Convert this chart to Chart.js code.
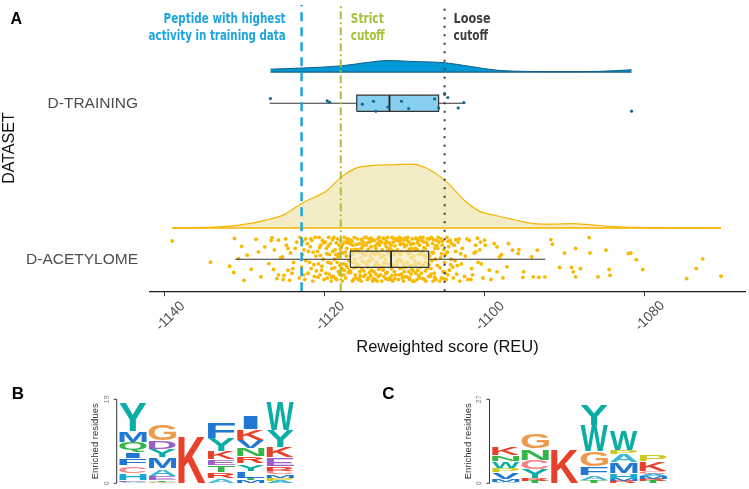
<!DOCTYPE html>
<html>
<head>
<meta charset="utf-8">
<script src="https://cdn.jsdelivr.net/npm/chart.js@4.4.0/dist/chart.umd.min.js"></script>
<style>
  body { margin: 0; background: #fff; }
  #wrap { position: relative; width: 749px; height: 489px; overflow: hidden; background: #fff; }
  canvas { position: absolute; }
</style>
</head>
<body>
<div id="wrap">
  <canvas id="chartA" width="749" height="360" style="left:0;top:0"></canvas>
  <canvas id="chartB" width="374" height="129" style="left:0;top:360px"></canvas>
  <canvas id="chartC" width="374" height="129" style="left:375px;top:360px"></canvas>
</div>
<script>
// ---- panel A data (reweighted score, REU) ----
const groups = ['D-ACETYLOME', 'D-TRAINING'];
const cutoffs = [-1122.9, -1118.0, -1105.0];   // best training peptide, strict, loose
const xTicks = [-1140, -1120, -1100, -1080];

// density outlines, relative height
const acetDensX = [-1139.1, -1135, -1132.3, -1129.5, -1127.5, -1125.1, -1122.7, -1119.8, -1117.9, -1116.0, -1114.0, -1111.2, -1109.2, -1107.3, -1104.8, -1102.5, -1100.6, -1098.7, -1096.3, -1093.9, -1091.5, -1089.1, -1086.7, -1084.3, -1079.5, -1075, -1070.4];
const acetDensH = [0, 0.01, 0.026, 0.07, 0.12, 0.21, 0.40, 0.58, 0.80, 0.94, 0.98, 0.99, 1.0, 0.94, 0.73, 0.43, 0.26, 0.20, 0.13, 0.07, 0.06, 0.07, 0.05, 0.026, 0.005, 0.003, 0];
const trainDensX = [-1126.8, -1122.8, -1117.8, -1114.5, -1112.1, -1109.1, -1104.9, -1101.9, -1098.3, -1094.75, -1090, -1085.75, -1081.6];
const trainDensH = [0.25, 0.35, 0.55, 0.85, 1.0, 0.92, 0.8, 0.5, 0.15, 0.06, 0.04, 0.06, 0.2];

// box stats: whisker low, q1, median, q3, whisker high
const acetBox = [-1131.2, -1116.8, -1111.7, -1107.0, -1092.4];
const trainBox = [-1126.9, -1116.0, -1111.9, -1105.75, -1102.4];

// jittered points: [score, jitter]
const trainPoints = [[-1126.8,0.03],[-1119.7,0.015],[-1119.4,0.008],[-1115.3,-0.006],[-1113.9,0.013],[-1113.6,-0.051],
  [-1112.1,-0.024],[-1110.4,0.013],[-1109.5,-0.034],[-1106.25,0.028],[-1105.75,-0.03],[-1105.0,0.062],[-1104.6,0.037],
  [-1103.3,-0.03],[-1102.6,0.005],[-1081.6,-0.051]];

const acetPoints = [
  [-1139.1,0.117],[-1134.3,-0.019],[-1131.3,0.133],[-1131.9,-0.045],[-1131.4,-0.085],[-1130.1,-0.135],[-1128.6,0.128],[-1129.2,-0.064],
  [-1129.7,0.026],[-1126.6,0.139],[-1127.5,0.079],[-1128.3,0.047],[-1127.0,-0.028],[-1126.4,-0.066],[-1128.0,-0.113],[-1125.8,0.122],
  [-1125.3,0.015],[-1124.6,0.069],[-1125.1,-0.103],[-1124.0,-0.06],[-1126.0,-0.124],[-1124.4,-0.135],[-1130.4,0.083],[-1130.8,0.004],
  [-1126.3,0.06],[-1125.8,-0.1],[-1126.7,0.12],[-1125.5,0.01],
  [-1124.9,0.13],[-1124.6,-0.07],[-1125.2,-0.13],[-1124.3,0.04],[-1124.8,0.09],
  [-1123.9,-0.02],[-1123.5,0.11],[-1123.2,-0.12],[-1123.7,0.07],[-1124.1,-0.09],[-1123.1,0.14],
  [-1122.8,0.03],[-1122.5,-0.13],[-1122.2,0.1],[-1122.9,-0.05],[-1122.4,0.13],[-1122.1,-0.09],[-1122.6,0.06],
  [-1121.9,-0.02],[-1121.6,0.12],[-1121.3,-0.11],[-1121.8,0.08],[-1121.1,0.02],[-1121.5,-0.14],[-1121.2,0.14],[-1121.7,-0.06],
  [-1120.9,0.05],[-1120.6,-0.1],[-1120.3,0.12],[-1120.8,-0.03],[-1120.1,-0.13],[-1120.5,0.09],[-1120.2,0.0],[-1120.7,0.14],[-1120.4,-0.07],
  [-1119.9,0.11],[-1119.7,-0.12],[-1119.4,0.03],[-1119.1,-0.06],[-1119.8,0.07],[-1119.5,0.14],[-1119.2,-0.14],[-1119.6,-0.02],[-1119.3,0.1],[-1119.0,0.05],[-1119.85,-0.09],
  [-1118.9,-0.11],[-1118.7,0.06],[-1118.4,0.13],[-1118.1,-0.04],[-1118.8,0.0],[-1118.5,-0.13],[-1118.2,0.09],[-1118.6,0.03],[-1118.3,-0.08],[-1118.0,0.12],[-1118.85,0.14],[-1118.45,-0.02],
  [-1117.9,0.08],[-1117.6,-0.1],[-1117.3,0.02],[-1117.1,0.13],[-1117.8,-0.14],[-1117.5,0.11],[-1117.2,-0.05],[-1117.7,0.04],[-1117.4,-0.12],[-1117.0,-0.01],[-1117.85,-0.06],[-1117.55,0.14],[-1117.25,0.07],[-1117.65,-0.03],
  [-1116.9,-0.07],[-1116.7,0.12],[-1116.4,-0.13],[-1116.1,0.05],[-1116.8,0.02],[-1116.5,0.09],[-1116.2,-0.1],[-1116.6,-0.02],[-1116.3,0.14],[-1116.0,-0.05],[-1116.85,0.1],[-1116.55,-0.14],[-1116.25,0.0],[-1116.65,0.06],[-1116.15,-0.12],
  [-1115.9,0.13],[-1115.7,-0.04],[-1115.4,0.07],[-1115.1,-0.11],[-1115.8,-0.13],[-1115.5,0.01],[-1115.2,0.11],[-1115.6,-0.08],[-1115.3,0.04],[-1115.0,0.14],[-1115.85,0.06],[-1115.45,-0.14],[-1115.15,-0.02],[-1115.65,0.1],[-1115.35,-0.06],[-1115.05,0.03],
  [-1114.9,-0.1],[-1114.7,0.05],[-1114.4,-0.01],[-1114.1,0.12],[-1114.8,0.14],[-1114.5,-0.12],[-1114.2,0.08],[-1114.6,-0.05],[-1114.3,0.02],[-1114.0,-0.14],[-1114.85,0.09],[-1114.45,0.13],[-1114.15,-0.07],[-1114.65,-0.13],[-1114.35,0.11],[-1114.05,0.0],[-1114.75,-0.03],
  [-1113.9,0.04],[-1113.7,-0.13],[-1113.4,0.1],[-1113.1,-0.06],[-1113.8,0.12],[-1113.5,-0.02],[-1113.2,0.14],[-1113.6,0.07],[-1113.3,-0.11],[-1113.0,0.01],[-1113.85,-0.08],[-1113.45,-0.14],[-1113.15,0.09],[-1113.65,0.03],[-1113.35,0.13],[-1113.05,-0.1],[-1113.75,-0.04],
  [-1112.9,0.11],[-1112.7,-0.07],[-1112.4,0.0],[-1112.1,-0.13],[-1112.8,0.06],[-1112.5,0.13],[-1112.2,-0.03],[-1112.6,-0.11],[-1112.3,0.08],[-1112.0,0.03],[-1112.85,-0.14],[-1112.45,0.1],[-1112.15,0.14],[-1112.65,-0.05],[-1112.35,-0.09],[-1112.05,0.06],[-1112.75,0.02],
  [-1111.9,-0.12],[-1111.7,0.09],[-1111.4,-0.04],[-1111.1,0.12],[-1111.8,0.02],[-1111.5,-0.14],[-1111.2,0.05],[-1111.6,0.14],[-1111.3,-0.08],[-1111.0,-0.01],[-1111.85,0.07],[-1111.45,0.11],[-1111.15,-0.1],[-1111.65,-0.06],[-1111.35,0.03],[-1111.05,0.13],[-1111.75,-0.13],
  [-1110.9,0.06],[-1110.7,-0.1],[-1110.4,0.13],[-1110.1,-0.03],[-1110.8,-0.13],[-1110.5,0.03],[-1110.2,0.1],[-1110.6,-0.06],[-1110.3,-0.12],[-1110.0,0.08],[-1110.85,0.12],[-1110.45,-0.01],[-1110.15,-0.14],[-1110.65,0.14],[-1110.35,0.05],[-1110.05,-0.08],[-1110.75,0.0],
  [-1109.9,-0.05],[-1109.7,0.12],[-1109.4,-0.12],[-1109.1,0.07],[-1109.8,0.09],[-1109.5,-0.08],[-1109.2,0.01],[-1109.6,0.14],[-1109.3,0.04],[-1109.0,-0.14],[-1109.85,-0.11],[-1109.45,0.11],[-1109.15,-0.04],[-1109.65,-0.02],[-1109.35,-0.13],[-1109.05,0.13],[-1109.75,0.05],
  [-1108.9,0.1],[-1108.7,-0.03],[-1108.4,0.06],[-1108.1,-0.12],[-1108.8,-0.14],[-1108.5,0.13],[-1108.2,0.03],[-1108.6,-0.09],[-1108.3,0.12],[-1108.0,-0.05],[-1108.85,0.02],[-1108.45,-0.13],[-1108.15,0.09],[-1108.65,0.07],[-1108.35,-0.07],[-1108.05,0.14],[-1108.75,-0.01],
  [-1107.9,-0.09],[-1107.7,0.14],[-1107.4,-0.02],[-1107.1,0.09],[-1107.8,0.05],[-1107.5,-0.13],[-1107.2,-0.06],[-1107.6,0.11],[-1107.3,0.01],[-1107.0,-0.11],[-1107.85,0.12],[-1107.45,0.07],[-1107.15,0.13],[-1107.65,-0.04],[-1107.35,-0.14],[-1107.05,0.04],
  [-1106.9,0.13],[-1106.7,-0.06],[-1106.4,0.04],[-1106.1,-0.13],[-1106.8,-0.11],[-1106.5,0.1],[-1106.2,0.07],[-1106.6,-0.01],[-1106.3,-0.09],[-1106.0,0.12],[-1106.85,0.02],[-1106.45,-0.14],[-1106.15,0.0],[-1106.65,0.14],
  [-1105.9,-0.04],[-1105.7,0.11],[-1105.4,-0.12],[-1105.1,0.06],[-1105.8,0.14],[-1105.5,0.01],[-1105.2,-0.08],[-1105.6,-0.14],[-1105.3,0.09],[-1105.0,-0.02],[-1105.85,0.07],[-1105.45,0.13],
  [-1104.9,0.03],[-1104.6,-0.1],[-1104.3,0.12],[-1104.0,-0.05],[-1104.8,-0.13],[-1104.5,0.08],[-1104.2,0.0],[-1104.7,0.14],[-1104.4,-0.07],[-1104.1,0.1],
  [-1103.9,-0.12],[-1103.6,0.05],[-1103.2,0.13],[-1103.8,0.09],[-1103.4,-0.04],[-1103.1,-0.14],[-1103.7,-0.01],[-1103.3,0.11],
  [-1102.8,0.07],[-1102.5,-0.11],[-1102.2,0.13],[-1102.9,-0.03],[-1102.4,0.02],[-1102.1,-0.13],
  [-1101.9,0.12],[-1101.6,-0.06],[-1101.3,0.04],[-1101.7,-0.13],[-1101.1,0.09],
  [-1100.8,-0.02],[-1100.5,0.11],[-1100.2,-0.12],[-1100.6,0.06],
  [-1122.35,-0.01],[-1122.75,0.115],[-1122.05,0.05],[-1122.65,-0.1],
  [-1121.45,0.045],[-1121.05,-0.075],[-1121.75,0.13],[-1121.35,-0.035],
  [-1120.55,0.025],[-1120.15,0.105],[-1120.85,-0.115],[-1120.35,-0.045],[-1120.65,0.075],
  [-1119.45,-0.095],[-1119.05,0.125],[-1119.75,0.035],[-1119.25,-0.025],[-1119.55,0.085],[-1119.15,-0.115],
  [-1118.55,0.105],[-1118.15,-0.095],[-1118.75,-0.055],[-1118.25,0.035],[-1118.65,-0.125],[-1118.05,0.065],[-1118.35,0.015],
  [-1117.45,0.045],[-1117.05,-0.085],[-1117.75,0.095],[-1117.35,-0.035],[-1117.15,0.105],[-1117.95,-0.105],[-1117.6,-0.07],[-1117.2,0.125],
  [-1116.45,0.035],[-1116.05,0.095],[-1116.75,-0.085],[-1116.35,-0.055],[-1116.95,0.125],[-1116.2,0.065],[-1116.6,0.115],[-1116.1,-0.025],
  [-1115.55,-0.105],[-1115.25,0.085],[-1115.75,0.045],[-1115.95,-0.035],[-1115.1,-0.075],[-1115.4,0.125],[-1115.65,-0.125],[-1115.3,-0.015],
  [-1114.55,0.065],[-1114.25,-0.105],[-1114.95,0.025],[-1114.1,0.045],[-1114.4,-0.085],[-1114.7,0.105],[-1114.6,-0.015],[-1114.2,0.135],
  [-1113.55,0.045],[-1113.25,-0.065],[-1113.95,-0.125],[-1113.1,0.115],[-1113.4,-0.035],[-1113.7,0.085],[-1113.6,-0.095],[-1113.2,0.035],
  [-1112.55,-0.025],[-1112.25,0.115],[-1112.95,-0.045],[-1112.1,0.045],[-1112.4,-0.125],[-1112.7,0.135],[-1112.6,0.025],[-1112.2,-0.085],
  [-1111.55,0.055],[-1111.25,-0.125],[-1111.95,0.105],[-1111.1,-0.045],[-1111.4,0.135],[-1111.7,-0.025],[-1111.6,-0.105],[-1111.2,0.085],
  [-1110.55,0.095],[-1110.25,-0.055],[-1110.95,-0.025],[-1110.1,0.125],[-1110.4,-0.095],[-1110.7,0.035],[-1110.6,0.115],[-1110.2,-0.115],
  [-1109.55,0.035],[-1109.25,0.095],[-1109.95,0.135],[-1109.1,-0.065],[-1109.4,0.065],[-1109.7,-0.115],[-1109.6,-0.045],[-1109.2,-0.095],
  [-1108.55,-0.045],[-1108.25,-0.105],[-1108.95,-0.075],[-1108.1,0.035],[-1108.4,0.105],[-1108.7,0.055],[-1108.6,0.135],[-1108.2,-0.025],
  [-1107.55,0.025],[-1107.25,0.105],[-1107.95,0.035],[-1107.1,-0.035],[-1107.4,-0.075],[-1107.7,-0.125],[-1107.6,0.075],
  [-1106.55,0.045],[-1106.25,-0.115],[-1106.95,-0.035],[-1106.1,0.085],[-1106.4,0.125],[-1106.7,-0.095],
  [-1105.55,-0.055],[-1105.25,0.115],[-1105.95,0.085],[-1105.1,-0.125],[-1105.4,0.035],
  [-1104.55,0.115],[-1104.25,-0.035],[-1104.95,-0.085],[-1104.65,0.045],
  [-1103.5,-0.095],[-1103.0,0.035],[-1103.6,0.125],
  [-1101.1,0.047],[-1100.4,-0.03],[-1099.4,-0.07],[-1098.8,0.1],[-1097.7,-0.12],[-1099.9,0.09],[-1099.2,-0.13],[-1101.5,-0.1],[-1100.9,0.135],[-1097.9,0.03],
  [-1100.0,0.122],[-1098.45,0.079],[-1098.1,0.015],[-1097.0,0.1],[-1096.5,0.058],[-1095.8,0.037],[-1095.7,0.062],[-1097.2,-0.049],
  [-1098.45,-0.081],[-1095.1,-0.081],[-1095.2,-0.117],[-1093.9,-0.113],[-1093.2,-0.117],[-1092.45,-0.113],[-1093.4,0.058],[-1094.1,0.015],
  [-1091.7,0.126],[-1091.5,0.096],[-1090.0,0.04],[-1088.6,0.069],[-1090.6,-0.053],[-1089.1,-0.053],[-1088.9,-0.081],[-1088.6,-0.113],
  [-1088.0,-0.06],[-1086.9,0.139],[-1086.8,0.04],[-1085.8,-0.113],[-1084.8,0.058],[-1084.4,-0.066],[-1084.3,-0.103],[-1082.0,0.037],
  [-1081.7,0.04],[-1081.0,-0.002],[-1080.2,-0.066],[-1074.7,-0.124],[-1073.5,-0.06],[-1072.7,0.002],[-1070.4,-0.109]
];

// ---- panels B and C: sequence logos, letters bottom -> top ----
const logoBLetters = [
  ['A','E','H','C','F','I','Q','M','Y'],
  ['G','T','E','A','M','Y','D','G'],
  ['K'],
  ['A','R','T','E','K','Y','F'],
  ['M','T','L','Y','R','N','V','K','I'],
  ['A','P','M','C','R','E','K','Y','W']
];
const logoBHeights = [
  [0.25,0.3,1.7,1.7,1.6,1.4,2.3,2.6,6.5],
  [0.35,0.35,0.9,1.7,2.5,1.9,2.0,3.6],
  [10.7],
  [1.1,1.4,1.6,1.3,1.8,3.0,3.8],
  [0.7,0.5,1.6,1.7,1.5,1.8,1.9,2.5,3.1],
  [0.6,0.6,0.7,0.9,1.05,1.9,2.4,3.8,6.5]
];
const logoCLetters = [
  ['A','M','V','P','W','N','K'],
  ['T','R','Y','C','N','G'],
  ['K'],
  ['T','A','F','G','W','Y'],
  ['R','M','H','M','A','P','W'],
  ['T','R','M','A','C','K','P']
];
const logoCHeights = [
  [0.5,0.7,2.3,1.4,2.2,1.8,2.6],
  [0.6,1.0,2.9,3.0,3.6,4.7],
  [10.9],
  [1.0,1.6,2.9,4.8,8.4,7.0],
  [0.7,0.7,1.8,3.4,2.7,1.3,6.3],
  [0.8,0.7,0.7,0.6,1.1,3.0,2.4]
];
const logoMax = [19, 27];

const letterColors = {
  K:'#E8412B', R:'#E8412B', D:'#9B5FC8', E:'#9B5FC8', N:'#33B54A', Q:'#33B54A', T:'#33B54A', S:'#33B54A',
  G:'#EC9A4C', Y:'#0BAEA6', W:'#0BAEA6', H:'#18A9D4', M:'#2177D1', F:'#2177D1', I:'#2177D1', L:'#2177D1',
  V:'#2177D1', A:'#3DB6D8', C:'#F08487', P:'#C9C920'
};

const SANS = '"Liberation Sans", Arial, Helvetica, sans-serif';
const NARROW = '"Liberation Sans Narrow", "DejaVu Sans Condensed", "Liberation Sans", sans-serif';

// ---- panel A ----
const ACET_BASE = 1.2, ACET_SCALE = 0.41;
const TRAIN_BASE = 2.2, TRAIN_SCALE = 0.074;
const BOX_H = 0.052;
const Y_MIN = 0.795, Y_MAX = 2.63;

function xy(xs, ys, base, scale) {
  return xs.map((v, i) => ({x: v, y: base + scale * ys[i]}));
}
function lineDs(data, color, width, order, extra) {
  return Object.assign({
    type: 'line', data: data, borderColor: color, borderWidth: width,
    pointRadius: 0, fill: false, tension: 0, order: order
  }, extra || {});
}
function boxSets(b, yc, fillColor, order) {
  return [
    lineDs([{x: b[1], y: yc + BOX_H}, {x: b[3], y: yc + BOX_H}], 'rgba(0,0,0,0)', 0, order,
      {fill: {value: yc - BOX_H}, backgroundColor: fillColor}),
    lineDs([{x: b[1], y: yc - BOX_H}, {x: b[1], y: yc + BOX_H}, {x: b[3], y: yc + BOX_H},
            {x: b[3], y: yc - BOX_H}, {x: b[1], y: yc - BOX_H}], '#333', 1.2, order - 0.1),
    lineDs([{x: b[0], y: yc}, {x: b[1], y: yc}], '#333', 1.1, order - 0.1),
    lineDs([{x: b[3], y: yc}, {x: b[4], y: yc}], '#333', 1.1, order - 0.1),
    lineDs([{x: b[2], y: yc - BOX_H}, {x: b[2], y: yc + BOX_H}], '#222', 1.8, order - 0.2)
  ];
}
function refLine(v, color, width, dash) {
  return lineDs([{x: v, y: Y_MIN}, {x: v, y: Y_MAX}], color, width, 1, {borderDash: dash});
}

const dsA = [
  lineDs(xy(acetDensX, acetDensH, ACET_BASE, ACET_SCALE), '#F5B400', 1.2, 20,
    {fill: {value: ACET_BASE}, backgroundColor: '#F4ECC4', cubicInterpolationMode: 'monotone'}),
  lineDs([{x: acetDensX[0], y: ACET_BASE}, {x: acetDensX[acetDensX.length - 1], y: ACET_BASE}], '#F5B400', 1.6, 19),
  lineDs(xy(trainDensX, trainDensH, TRAIN_BASE, TRAIN_SCALE), '#135E84', 1, 20,
    {fill: {value: TRAIN_BASE}, backgroundColor: '#0099D6', cubicInterpolationMode: 'monotone'}),
  lineDs([{x: trainDensX[0], y: TRAIN_BASE}, {x: trainDensX[trainDensX.length - 1], y: TRAIN_BASE}], '#135E84', 1.2, 19),
  lineDs(acetPoints.map(p => ({x: p[0], y: 1 + p[1]})), '#F8B900', 0, 15,
    {showLine: false, pointRadius: 1.9, pointBackgroundColor: '#F8B900', pointBorderWidth: 0}),
  ...boxSets(acetBox, 1, 'rgba(245,235,190,0.7)', 12),
  ...boxSets(trainBox, 2, 'rgba(53,175,227,0.6)', 12),
  lineDs(trainPoints.map(p => ({x: p[0], y: 2 + p[1]})), '#17698F', 0, 5,
    {showLine: false, pointRadius: 1.6, pointBackgroundColor: '#17698F', pointBorderWidth: 0}),
  refLine(cutoffs[0], '#1CA5DF', 2.5, [9, 6]),
  refLine(cutoffs[1], '#A3C13A', 2, [8, 3, 2, 3]),
  refLine(cutoffs[2], '#3a3a3a', 2, [2, 6.5])
];

const panelA = {
  id: 'panelA',
  afterDraw(chart) {
    const {ctx, scales: {x, y}} = chart;
    ctx.save();
    // tick labels, rotated
    ctx.fillStyle = '#4d4d4d';
    ctx.font = '14px ' + SANS;
    ctx.textAlign = 'center';
    ctx.textBaseline = 'middle';
    x.ticks.forEach(t => {
      ctx.save();
      ctx.translate(x.getPixelForValue(t.value) + 5.5, y.bottom + 25);
      ctx.rotate(-Math.PI / 4);
      ctx.fillText(String(t.value), 0, 0);
      ctx.restore();
    });
    // category labels
    ctx.font = '15.5px ' + SANS;
    ctx.textAlign = 'right';
    groups.forEach((g, i) => ctx.fillText(g, x.left - 12, y.getPixelForValue(i + 1)));
    // y title
    ctx.save();
    ctx.fillStyle = '#111';
    ctx.font = '16px ' + SANS;
    ctx.textAlign = 'center';
    ctx.translate(9.5, (y.top + y.bottom) / 2);
    ctx.rotate(-Math.PI / 2);
    ctx.fillText('DATASET', 0, 0);
    ctx.restore();
    // annotations
    ctx.font = 'bold 14px ' + NARROW;
    const xb = x.getPixelForValue(cutoffs[0]), xs = x.getPixelForValue(cutoffs[1]), xl = x.getPixelForValue(cutoffs[2]);
    ctx.fillStyle = '#1CA5DF';
    ctx.textAlign = 'right';
    ctx.fillText('Peptide with highest', xb - 16, 19, 122);
    ctx.fillText('activity in training data', xb - 16, 36.5, 137);
    ctx.textAlign = 'left';
    ctx.fillStyle = '#A3C13A';
    ctx.fillText('Strict', xs + 10, 19, 33);
    ctx.fillText('cutoff', xs + 10, 36.5, 34);
    ctx.fillStyle = '#3d3d3d';
    ctx.fillText('Loose', xl + 9, 19, 37);
    ctx.fillText('cutoff', xl + 9, 36.5, 34.5);
    // panel letter
    ctx.fillStyle = '#000';
    ctx.font = 'bold 16px ' + SANS;
    ctx.textBaseline = 'alphabetic';
    ctx.fillText('A', 10.5, 23.5);
    ctx.restore();
  }
};

new Chart(document.getElementById('chartA'), {
  type: 'line',
  data: {datasets: dsA},
  options: {
    responsive: false,
    animation: false,
    events: [],
    layout: {padding: {left: 150, right: 3.3, top: 5, bottom: 3}},
    plugins: {legend: {display: false}, tooltip: {enabled: false}},
    scales: {
      x: {
        type: 'linear', min: -1141.875, max: -1067.4,
        afterBuildTicks: s => { s.ticks = xTicks.map(v => ({value: v})); },
        ticks: {display: false},
        grid: {display: true, drawOnChartArea: false, drawTicks: true, tickLength: 5, color: '#333', lineWidth: 1},
        border: {display: true, color: '#1a1a1a', width: 1.3},
        title: {display: true, text: 'Reweighted score (REU)', color: '#111',
                font: {size: 16.5, family: SANS}, padding: {top: 41, bottom: 0}}
      },
      y: {type: 'linear', min: Y_MIN, max: Y_MAX, display: false}
    }
  },
  plugins: [panelA]
});

// ---- logos ----
function drawLetter(ctx, ch, left, bottom, w, h) {
  ctx.save();
  ctx.font = 'bold 100px ' + SANS;
  const m = ctx.measureText(ch);
  const gw = m.actualBoundingBoxLeft + m.actualBoundingBoxRight;
  const gh = m.actualBoundingBoxAscent + m.actualBoundingBoxDescent;
  const f = ch === 'I' ? 0.55 : 1;
  ctx.translate(left + w * (1 - f) / 2, bottom);
  ctx.scale(w * f / gw, h / gh);
  ctx.fillStyle = letterColors[ch] || '#888';
  ctx.textAlign = 'left';
  ctx.textBaseline = 'alphabetic';
  ctx.fillText(ch, m.actualBoundingBoxLeft, -m.actualBoundingBoxDescent);
  ctx.restore();
}

const logoPlugin = {
  id: 'logo',
  afterDatasetsDraw(chart, args, opts) {
    const ctx = chart.ctx;
    chart.data.datasets.forEach((ds, di) => {
      chart.getDatasetMeta(di).data.forEach((bar, ci) => {
        const ch = opts.letters[ci][di];
        if (!ch) return;
        const p = bar.getProps(['x', 'y', 'base', 'width'], true);
        const h = p.base - p.y;
        if (h < 0.4) return;
        const gap = h > 3 ? 0.4 : 0;
        drawLetter(ctx, ch, p.x - p.width / 2, p.base - gap, p.width, h - 2 * gap);
      });
    });
  },
  afterDraw(chart, args, opts) {
    const {ctx, chartArea, scales: {y}} = chart;
    const ax = chartArea.left - 1.5;
    const y0 = y.getPixelForValue(0), y1 = y.getPixelForValue(y.max);
    ctx.save();
    ctx.strokeStyle = '#333';
    ctx.lineWidth = 1;
    ctx.beginPath();
    ctx.moveTo(ax - 3, y0); ctx.lineTo(ax, y0); ctx.lineTo(ax, y1); ctx.lineTo(ax - 3, y1);
    ctx.stroke();
    ctx.fillStyle = '#777';
    ctx.font = '7px ' + SANS;
    ctx.textAlign = 'center';
    ctx.textBaseline = 'middle';
    [[0, y0], [y.max, y1]].forEach(t => {
      ctx.save(); ctx.translate(ax - 10, t[1]); ctx.rotate(-Math.PI / 2);
      ctx.fillText(String(t[0]), 0, 0); ctx.restore();
    });
    ctx.fillStyle = '#333';
    ctx.font = '9.5px ' + SANS;
    ctx.save(); ctx.translate(ax - 21.5, (y0 + y1) / 2); ctx.rotate(-Math.PI / 2);
    ctx.fillText('Enriched residues', 0, 0); ctx.restore();
    ctx.fillStyle = '#000';
    ctx.font = 'bold 17px ' + SANS;
    ctx.textAlign = 'left';
    ctx.textBaseline = 'alphabetic';
    ctx.fillText(opts.panel, opts.panelX, 38.5);
    ctx.restore();
  }
};

function makeLogo(id, letters, heights, max, panel, panelX, padL, padR) {
  const depth = Math.max(...letters.map(c => c.length));
  const datasets = [];
  for (let i = 0; i < depth; i++) {
    datasets.push({
      data: heights.map(c => c[i] || 0),
      backgroundColor: 'rgba(0,0,0,0)', borderWidth: 0,
      categoryPercentage: 1, barPercentage: 0.93
    });
  }
  new Chart(document.getElementById(id), {
    type: 'bar',
    data: {labels: letters.map((c, i) => String(i + 1)), datasets: datasets},
    options: {
      responsive: false, animation: false, events: [],
      layout: {padding: {left: padL, right: padR, top: 39.3, bottom: 5.7}},
      plugins: {legend: {display: false}, tooltip: {enabled: false},
                logo: {letters: letters, panel: panel, panelX: panelX}},
      scales: {
        x: {stacked: true, display: false},
        y: {stacked: true, display: false, min: 0, max: max}
      }
    },
    plugins: [logoPlugin]
  });
}

makeLogo('chartB', logoBLetters, logoBHeights, logoMax[0], 'B', 11.7, 118.2, 79);
makeLogo('chartC', logoCLetters, logoCHeights, logoMax[1], 'C', 7.3, 116, 81);
</script>
</body>
</html>
